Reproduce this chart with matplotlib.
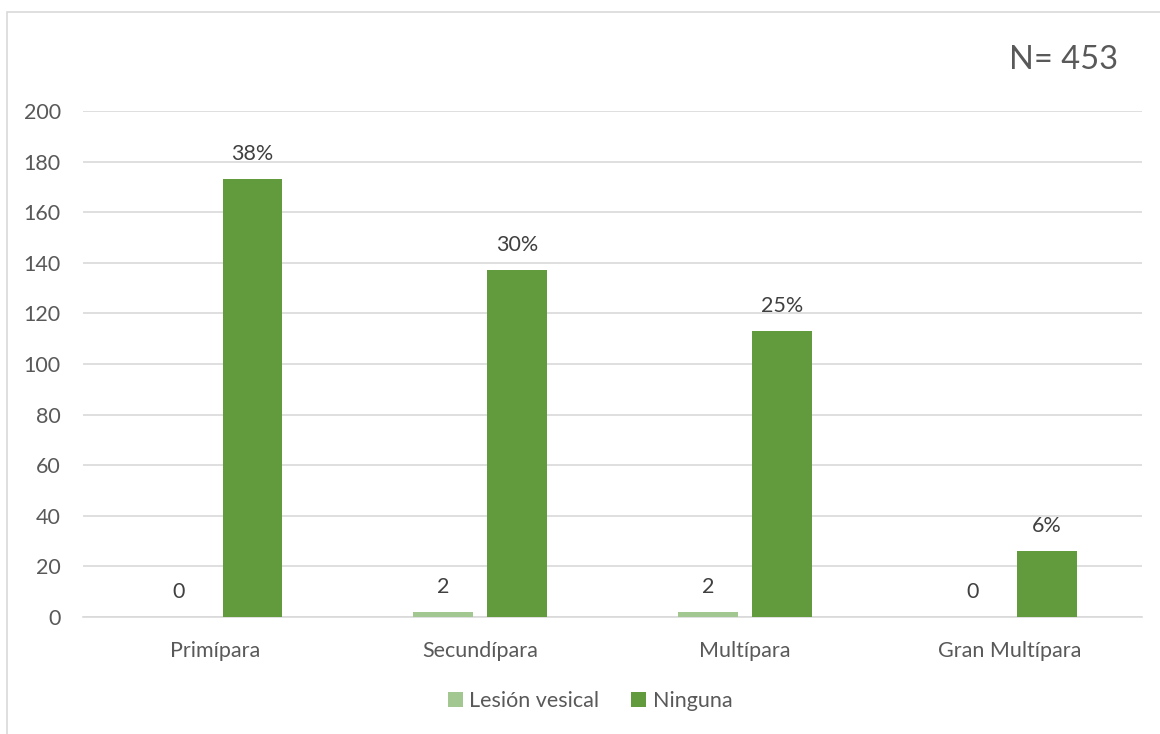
import matplotlib.pyplot as plt
import numpy as np
from matplotlib.patches import Rectangle

categorias = ["Primípara", "Secundípara", "Multípara", "Gran Multípara"]
lesion_vesical = [0, 2, 2, 0]
ninguna = [173, 137, 113, 26]
etiquetas_ninguna = ["38%", "30%", "25%", "6%"]
total = 453

plt.rcParams['font.family'] = ['Lato', 'DejaVu Sans']
gris = "#595959"
claro = "#A2C790"
oscuro = "#619B3E"

fig = plt.figure(figsize=(11.6, 7.34), dpi=100)
fig.patches.append(Rectangle((7 / 1160, -0.1), 1.2, 1 - 12 / 734 + 0.1,
                             transform=fig.transFigure, fill=False,
                             edgecolor="#D9D9D9", linewidth=1.2))
ax = fig.add_axes([83 / 1160, 1 - 617 / 734, (1142 - 83) / 1160, (617 - 111) / 734])

x = np.arange(len(categorias))
w = 0.226
off = 0.14
b1 = ax.bar(x - off, lesion_vesical, w, color=claro, label="Lesión vesical", zorder=3)
b2 = ax.bar(x + off, ninguna, w, color=oscuro, label="Ninguna", zorder=3)

for xi, v in zip(x, lesion_vesical):
    ax.text(xi - off, v + 6, str(v), ha="center", va="bottom", fontsize=15.5, color="#404040")
for xi, v, t in zip(x, ninguna, etiquetas_ninguna):
    ax.text(xi + off, v + 6, t, ha="center", va="bottom", fontsize=15.5, color="#404040")

ax.set_xlim(-0.5, 3.5)
ax.set_ylim(0, 200)
ax.set_yticks(range(0, 201, 20))
ax.set_xticks(x)
ax.set_xticklabels(categorias)
ax.yaxis.grid(True, color="#D9D9D9", linewidth=1.2, zorder=0)
ax.tick_params(axis="both", length=0, labelsize=15.5, labelcolor=gris)
ax.tick_params(axis="x", pad=17)
ax.tick_params(axis="y", pad=16)
for s in ["top", "right", "left"]:
    ax.spines[s].set_visible(False)
ax.spines["bottom"].set_color("#D9D9D9")
ax.spines["bottom"].set_linewidth(1.2)

fig.text(1118 / 1160, 1 - 60 / 734, f"N= {total}", ha="right", va="center",
         fontsize=23.5, color=gris)

fig.legend(handles=[b1, b2], loc="center", bbox_to_anchor=(590 / 1160, 1 - 701 / 734),
           ncol=2, frameon=False, fontsize=15.5, labelcolor=gris, handlelength=0.7,
           handleheight=0.7, handletextpad=0.3, columnspacing=1.5)

fig.savefig("out.png", dpi=100)
